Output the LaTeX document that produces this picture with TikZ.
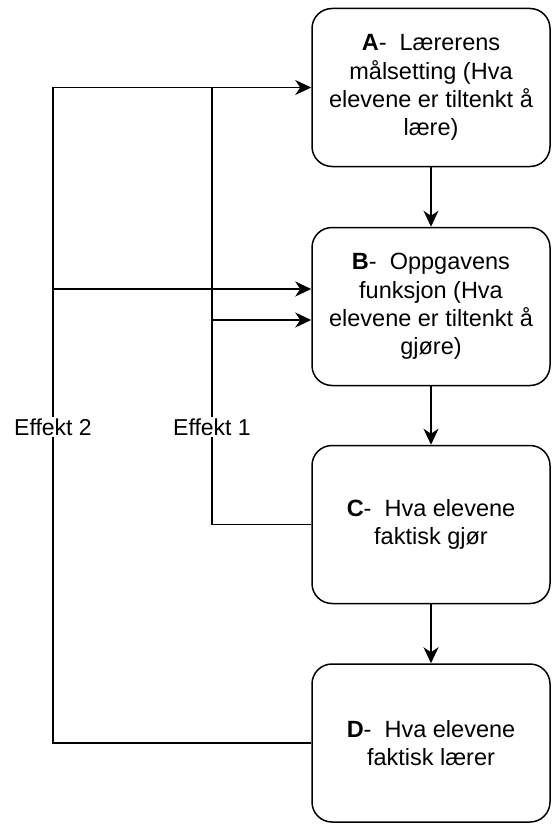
\documentclass[tikz,border=0pt]{standalone}
\usepackage{fontspec}
\setmainfont{Liberation Sans}
\usetikzlibrary{arrows.meta}
\begin{document}
\begin{tikzpicture}[x=1pt,y=-1pt,
  stage/.style={draw, line width=1.5pt, rounded corners=20pt,
    minimum width=238pt, minimum height=158pt, align=center,
    font=\fontsize{23.5}{28.3}\selectfont, inner sep=0pt},
  link/.style={line width=1.5pt},
  arr/.style={link, -{Stealth[length=16pt,width=15pt,inset=5pt]}},
  effect/.style={fill=white, font=\fontsize{23}{27}\selectfont, inner sep=2pt}]
\useasboundingbox (0,0) rectangle (557,832);

% the four stages
\node[stage] (A) at (431,87.5)  {\textbf{A}-\ \ Lærerens\\målsetting (Hva\\elevene er tiltenkt å\\lære)};
\node[stage] (B) at (431,306.5) {\textbf{B}-\ \ Oppgavens\\funksjon (Hva\\elevene er tiltenkt å\\gjøre)};
\node[stage] (C) at (431,524.5) {\textbf{C}-\ \ Hva elevene\\faktisk gjør};
\node[stage] (D) at (431,743)   {\textbf{D}-\ \ Hva elevene\\faktisk lærer};

% main chain
\draw[arr] (A) -- (B);
\draw[arr] (B) -- (C);
\draw[arr] (C) -- (D);

% feedback lines
\coordinate (e2top) at (53,87.5);
\coordinate (e1top) at (212,87.5);
\coordinate (e2b) at (53,289);
\coordinate (e1b) at (212,320);

\draw[arr] (D.west) -| (e2top) -- (A.west);
\draw[link] (C.west) -| (e1top);
\draw[arr] (e2b) -- (e2b -| B.west);
\draw[arr] (e1b) -- (e1b -| B.west);

% labels
\node[effect] (l2) at (53,427) {Effekt 2};
\node[effect] (l1) at (212,427) {Effekt 1};
\end{tikzpicture}
\end{document}
